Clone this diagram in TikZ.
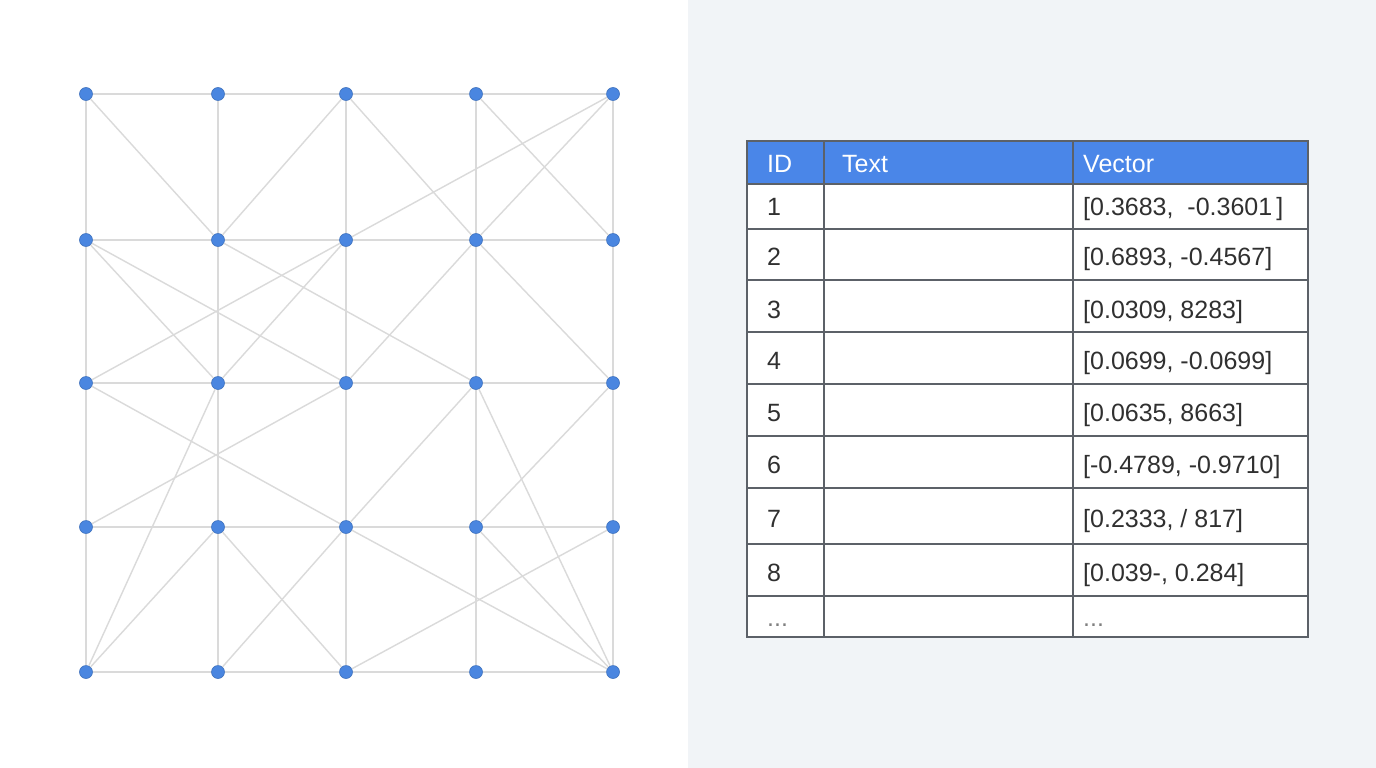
\documentclass[tikz,border=0pt]{standalone}
\usepackage{fontspec}
\setmainfont{Liberation Sans}
\usetikzlibrary{positioning}

\definecolor{nodeblue}{HTML}{4A86E0}
\definecolor{headblue}{HTML}{4A86E8}
\definecolor{linegray}{HTML}{DADADA}
\definecolor{panelgray}{HTML}{F1F4F7}
\definecolor{rulegray}{HTML}{5C6168}
\definecolor{textgray}{HTML}{303030}

\begin{document}
\begin{tikzpicture}[
    x=1pt,y=-1pt,
    vertex/.style={circle,fill=nodeblue,draw=nodeblue!85!black,line width=0.6pt,minimum size=13pt,inner sep=0pt},
    link/.style={draw=linegray,line width=1.4pt},
    rule/.style={draw=rulegray,line width=1.3pt},
    cell/.style={anchor=base west,inner sep=0pt,text=textgray,font=\fontsize{25}{28}\selectfont},
    head/.style={cell,text=white}
]
% the two panels
\fill[white] (0,0) rectangle (688,768);
\fill[panelgray] (688,0) rectangle (1376,768);

% draw the vertices
\foreach \y [count=\r from 0] in {94,240,383,527,672}
  \foreach \x [count=\c from 0] in {86,218,346,476,613}
    \node[vertex] (v\r\c) at (\x,\y) {};

% grid edges
\foreach \r in {0,1,2,3,4}
  \foreach \c/\d in {0/1,1/2,2/3,3/4}
    \draw[link] (v\r\c) -- (v\r\d) (v\c\r) -- (v\d\r);

% diagonal edges
\path[link]
(v00) edge (v11)
(v02) edge (v11) edge (v13)
(v03) edge (v14)
(v04) edge (v12) edge (v13)
(v10) edge (v21) edge (v22)
(v11) edge (v23)
(v12) edge (v20) edge (v21)
(v13) edge (v22) edge (v24)
(v20) edge (v32)
(v21) edge (v40)
(v22) edge (v30)
(v23) edge (v32) edge (v44)
(v24) edge (v33)
(v31) edge (v40) edge (v42)
(v32) edge (v41) edge (v44)
(v33) edge (v44)
(v34) edge (v42)
; % diagonals done

% the table
\fill[headblue] (747,141) rectangle (1308,184);
\fill[white] (747,184) rectangle (1308,637);
\foreach \y in {184,229,280,332,384,436,488,544,596}
  \draw[rule] (747,\y) -- (1308,\y);
\foreach \x in {824,1073}
  \draw[rule] (\x,141) -- (\x,637);
\draw[rule] (747,141) rectangle (1308,637);

\node[head] (h_id) at (767,172) {ID};
\node[head] (h_text) at (842,172) {Text};
\node[head] (h_vec) at (1083,172) {Vector};

\node[cell] (id_1) at (767,215) {1};
\node[cell] (vec_1) at (1083,215) {[0.3683,\ \ -0.3601\,]};
\node[cell] (id_2) at (767,265) {2};
\node[cell] (vec_2) at (1083,265) {[0.6893, -0.4567]};
\node[cell] (id_3) at (767,318) {3};
\node[cell] (vec_3) at (1083,318) {[0.0309, 8283]};
\node[cell] (id_4) at (767,369) {4};
\node[cell] (vec_4) at (1083,369) {[0.0699, -0.0699]};
\node[cell] (id_5) at (767,421) {5};
\node[cell] (vec_5) at (1083,421) {[0.0635, 8663]};
\node[cell] (id_6) at (767,473) {6};
\node[cell] (vec_6) at (1083,473) {[-0.4789, -0.9710]};
\node[cell] (id_7) at (767,527) {7};
\node[cell] (vec_7) at (1083,527) {[0.2333, / 817]};
\node[cell] (id_8) at (767,581) {8};
\node[cell] (vec_8) at (1083,581) {[0.039-, 0.284]};
\node[cell,text=gray] (id_9) at (767,626) {...};
\node[cell,text=gray] (vec_9) at (1083,626) {...};
\end{tikzpicture}
\end{document}
